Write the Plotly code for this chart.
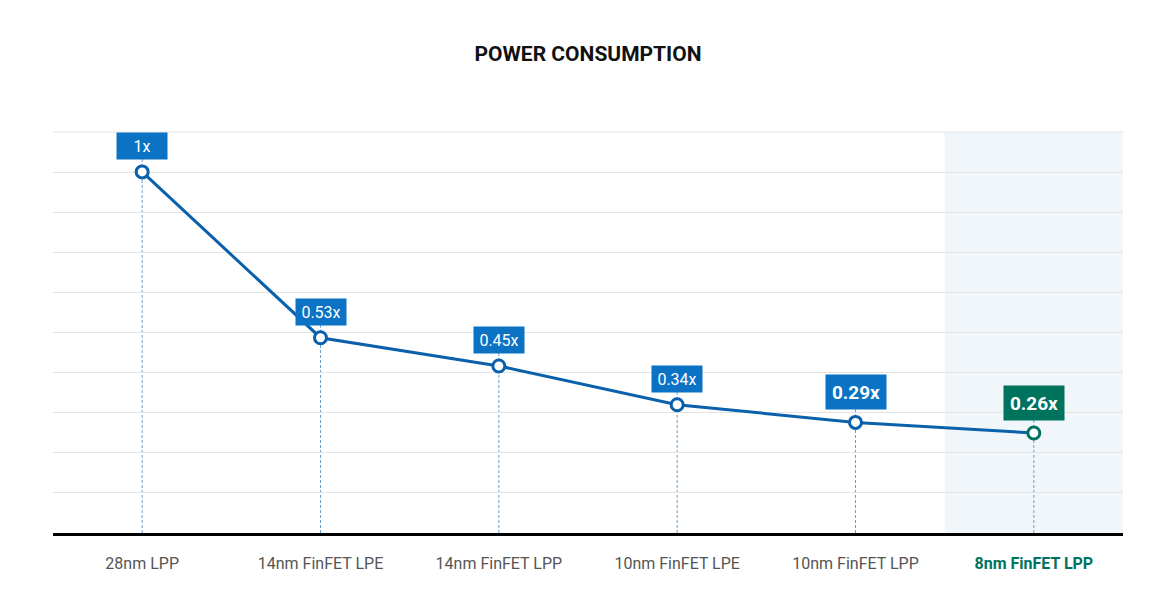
import plotly.graph_objects as go

categories = ["28nm LPP", "14nm FinFET LPE", "14nm FinFET LPP",
              "10nm FinFET LPE", "10nm FinFET LPP", "8nm FinFET LPP"]
values = [1.0, 0.53, 0.45, 0.34, 0.29, 0.26]
value_labels = ["1x", "0.53x", "0.45x", "0.34x", "0.29x", "0.26x"]

BLUE_LINE = "#0a60aa"
BLUE_BOX = "#0b72c4"
GREEN = "#00735f"
DASH = "#6a9fcb"
GRID = "#e3e3e3"
FONT = "Roboto"

y_min, y_max = -0.0235, 1.1131
n = len(categories)
x = list(range(n))

fig = go.Figure()

# dashed guide lines (baseline up to value)
for i, v in enumerate(values):
    fig.add_shape(type="line", xref="x", yref="y", x0=i, x1=i, y0=y_min, y1=v,
                  line=dict(color=DASH, width=1, dash="3px,2px"), layer="below")
    fig.add_shape(type="line", xref="x", yref="y", ysizemode="pixel", yanchor=v,
                  x0=i, x1=i, y0=0, y1=13,
                  line=dict(color=DASH, width=1, dash="3px,2px"), layer="below")

# highlight band for last category
fig.add_shape(type="rect", xref="x", yref="paper", x0=n - 1.5, x1=n - 0.5, y0=0, y1=1,
              fillcolor="#f1f6fa", line=dict(width=0), layer="below")
# top gridline
fig.add_shape(type="line", xref="paper", yref="paper", x0=0, x1=1, y0=1, y1=1,
              line=dict(color=GRID, width=1), layer="below")

marker_colors = [BLUE_LINE] * (n - 1) + [GREEN]
fig.add_trace(go.Scatter(
    x=x, y=values, mode="lines+markers",
    line=dict(color=BLUE_LINE, width=3),
    marker=dict(size=12, color="white", line=dict(color=marker_colors, width=3)),
    hoverinfo="skip", showlegend=False,
))

for i, (v, lab) in enumerate(zip(values, value_labels)):
    big = i >= n - 2
    fig.add_annotation(
        x=i, y=v, xref="x", yref="y", text=f"<b>{lab}</b>" if big else lab,
        showarrow=False, yanchor="bottom", yshift=12,
        font=dict(family=FONT, size=19 if big else 16, color="white"),
        bgcolor=GREEN if i == n - 1 else BLUE_BOX,
        borderpad=4, width=52 if big else 42, height=26 if big else 18,
    )

ticktext = [c for c in categories[:-1]] + [
    f"<b><span style='color:{GREEN}'>{categories[-1]}</span></b>"]

fig.update_layout(
    width=1176, height=616,
    margin=dict(l=45, r=61, t=124, b=91),
    paper_bgcolor="white", plot_bgcolor="rgba(0,0,0,0)",
    title=dict(text="<b>POWER CONSUMPTION</b>", x=(588 - 8) / 1176, xanchor="center",
               y=1 - 46 / 616, yanchor="middle",
               font=dict(family=FONT, size=21, color="#111111")),
    font=dict(family=FONT),
    xaxis=dict(range=[-0.5, n - 0.5], tickmode="array", tickvals=x, ticktext=ticktext,
               showgrid=False, zeroline=False, showline=True, linecolor="#000000",
               linewidth=3, ticks="", ticklabelstandoff=14,
               tickfont=dict(family=FONT, size=16, color="#555555"), fixedrange=True),
    yaxis=dict(range=[y_min, y_max], tick0=y_min, dtick=(y_max - y_min) / 10,
               showgrid=True, gridcolor=GRID, gridwidth=1, zeroline=False,
               showticklabels=False, ticks="", fixedrange=True),
)

fig.write_html("out.html")
